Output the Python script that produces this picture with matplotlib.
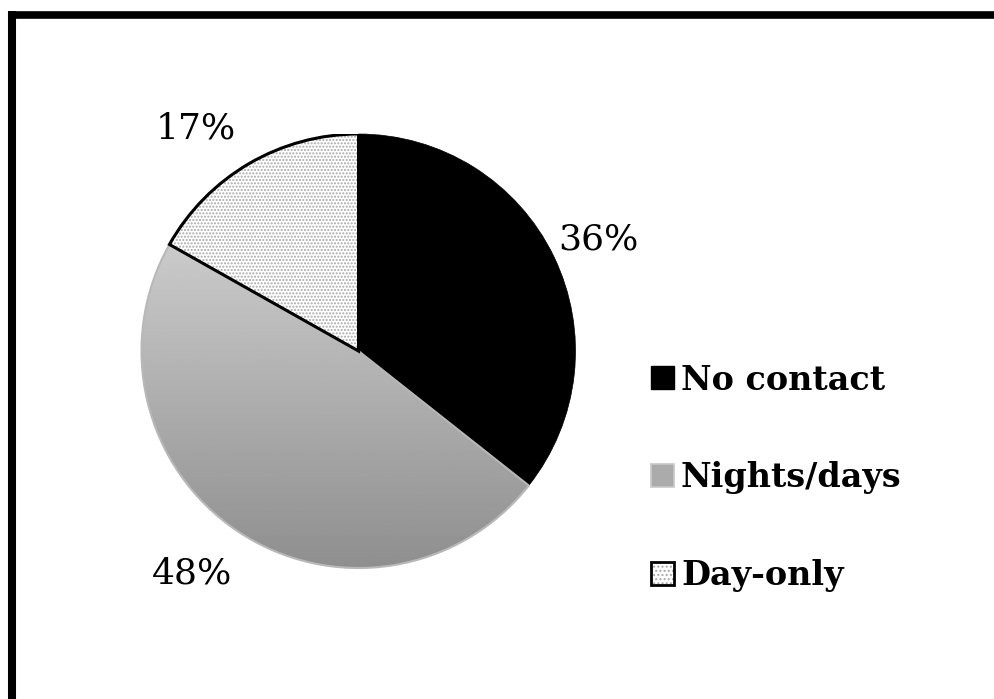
import numpy as np
import matplotlib.pyplot as plt
from matplotlib.patches import Patch, Wedge
from matplotlib.legend_handler import HandlerTuple

categories = ["No contact", "Nights/days", "Day-only"]
shares = [36, 48, 17]
pct_labels = ["36%", "48%", "17%"]

plt.rcParams['font.family'] = ['DejaVu Serif']

fig = plt.figure(figsize=(9.94, 6.99), dpi=100)

# frame lines (top and left only)
fig.add_artist(plt.Line2D([12 / 994, 1], [1 - 14.5 / 699] * 2, color='black', lw=5.5,
                          solid_capstyle='butt', transform=fig.transFigure))
fig.add_artist(plt.Line2D([12 / 994] * 2, [0, 1 - 11 / 699], color='black', lw=5.8,
                          solid_capstyle='butt', transform=fig.transFigure))

ax = fig.add_axes([141 / 994, 1 - 568 / 699, 435 / 994, 434 / 699])

wedges, texts = ax.pie(shares, labels=pct_labels, startangle=90, counterclock=False,
                       labeldistance=1.25, radius=1,
                       textprops=dict(fontsize=26, color='black'))

# nudge labels a little (angle offset in degrees, distance)
nudges = [(-1, 1.22), (-3, 1.28), (6, 1.27)]
for t, w, (da, dist) in zip(texts, wedges, nudges):
    ang = np.deg2rad((w.theta1 + w.theta2) / 2 + da)
    t.set_position((dist * np.cos(ang), dist * np.sin(ang)))
    t.set_ha('center')
    t.set_va('center')

# black wedge
wedges[0].set_facecolor('black')
wedges[0].set_edgecolor('black')
wedges[0].set_linewidth(0.5)

# gray wedge with vertical gradient (light at top, dark at bottom)
wedges[1].set_facecolor('none')
wedges[1].set_edgecolor('#b8b8b8')
wedges[1].set_linewidth(1.5)
grad = np.linspace(1, 0, 256).reshape(-1, 1)
img = ax.imshow(grad, extent=(-1, 1, -1, 1), origin='upper', cmap='gray',
                vmin=-1.78, vmax=1.40, aspect='auto', zorder=0.5)
img.set_clip_path(wedges[1])

# dotted wedge
wedges[2].set_facecolor('white')
wedges[2].set_edgecolor('#a8a8a8')
wedges[2].set_hatch('.....')
wedges[2].set_linewidth(0)
w = wedges[2]
ax.add_patch(Wedge(w.center, w.r, w.theta1, w.theta2,
                   facecolor='none', edgecolor='black', lw=2.2, zorder=3))

ax.set_xlim(-1, 1)
ax.set_ylim(-1, 1)
ax.set_aspect('equal')
ax.axis('off')

handles = [
    Patch(facecolor='black', edgecolor='black'),
    Patch(facecolor='#ababab', edgecolor='#c8c8c8', lw=1.2),
    (Patch(facecolor='white', edgecolor='#a8a8a8', hatch='....', lw=0),
     Patch(facecolor='none', edgecolor='black', lw=2)),
]
fig.legend(handles, categories, loc='center left',
           bbox_to_anchor=(651 / 994, 1 - 478 / 699), frameon=False,
           prop=dict(size=24, weight='bold'), handlelength=0.68, handleheight=0.68,
           handletextpad=0.22, labelspacing=1.95, borderpad=0, borderaxespad=0,
           handler_map={tuple: HandlerTuple(ndivide=1)})

fig.savefig('out.png', dpi=100)
